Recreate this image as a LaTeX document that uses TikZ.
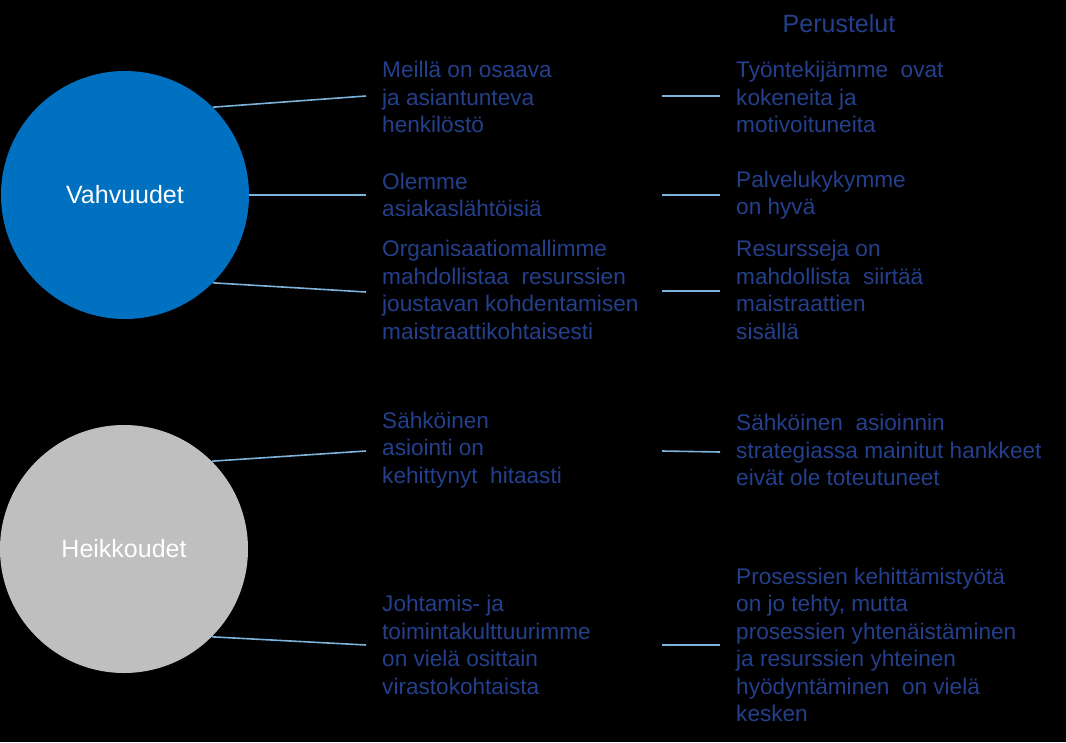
\documentclass[tikz,border=0pt]{standalone}
\usepackage{fontspec}
\setmainfont{Liberation Sans}
\definecolor{txtblue}{RGB}{36,64,140}
\definecolor{circblue}{RGB}{0,112,192}
\definecolor{circgray}{RGB}{191,191,191}
\definecolor{linkblue}{RGB}{125,178,218}
\tikzset{
  bigcirc/.style={circle, minimum size=248pt, inner sep=0pt, text=white, font=\fontsize{25}{28}\selectfont},
  txt/.style={anchor=west, align=left, inner sep=0pt, text=txtblue, font=\fontsize{22.6}{27.5}\selectfont},
  link/.style={draw=linkblue, line width=1.6pt}
}
\begin{document}
\begin{tikzpicture}[x=1pt,y=-1pt]
\fill[black] (0,0) rectangle (1066,742);
\useasboundingbox (0,0) rectangle (1066,742);

\node[txt, anchor=center, font=\fontsize{25}{28}\selectfont] (head) at (839,24) {Perustelut};

\node[bigcirc, fill=circblue] (V) at (125,195) {Vahvuudet};
\node[bigcirc, fill=circgray] (H) at (124,549) {Heikkoudet};

% left texts
\node[txt] (s1) at (382,97) {Meillä on osaava\\ja asiantunteva\\henkilöstö};
\node[txt] (s2) at (382,195) {Olemme\\asiakaslähtöisiä};
\node[txt] (s3) at (382,290) {Organisaatiomallimme\\mahdollistaa\ \ resurssien\\joustavan kohdentamisen\\maistraattikohtaisesti};
\node[txt] (w1) at (382,450) {Sähköinen\\asiointi on\\kehittynyt\ \ hitaasti};
\node[txt] (w2) at (382,645) {Johtamis- ja\\toimintakulttuurimme\\on vielä osittain\\virastokohtaista};

% right texts
\node[txt] (r1) at (736,97) {Työntekijämme\ \ ovat\\kokeneita ja\\motivoituneita};
\node[txt] (r2) at (736,195) {Palvelukykymme\\on hyvä};
\node[txt] (r3) at (736,290) {Resursseja on\\mahdollista\ \ siirtää\\maistraattien\\sisällä};
\node[txt] (r4) at (736,450) {Sähköinen\ \ asioinnin\\strategiassa mainitut hankkeet\\eivät ole toteutuneet};
\node[txt] (r5) at (736,645) {Prosessien kehittämistyötä\\on jo tehty,\ mutta\\prosessien yhtenäistäminen\\ja resurssien yhteinen\\hyödyntäminen\ \ on vielä\\kesken};

% connector endpoints
\coordinate (c1) at (366,96);
\coordinate (c2) at (366,195);
\coordinate (c3) at (366,292);
\coordinate (c4) at (366,451);
\coordinate (c5) at (366,645);

\draw[link] (V.45) -- (c1);
\draw[link] (V.east) -- (c2);
\draw[link] (V.-45) -- (c3);
\draw[link] (H.45) -- (c4);
\draw[link] (H.-45) -- (c5);

% short connectors
\coordinate (a1) at (662,96);  \coordinate (b1) at (720,96);
\coordinate (a2) at (662,195); \coordinate (b2) at (720,195);
\coordinate (a3) at (662,291); \coordinate (b3) at (720,291);
\coordinate (a4) at (662,451); \coordinate (b4) at (720,452);
\coordinate (a5) at (662,645); \coordinate (b5) at (720,645);
\draw[link] (a1) -- (b1);
\draw[link] (a2) -- (b2);
\draw[link] (a3) -- (b3);
\draw[link] (a4) -- (b4);
\draw[link] (a5) -- (b5);
\end{tikzpicture}
\end{document}
